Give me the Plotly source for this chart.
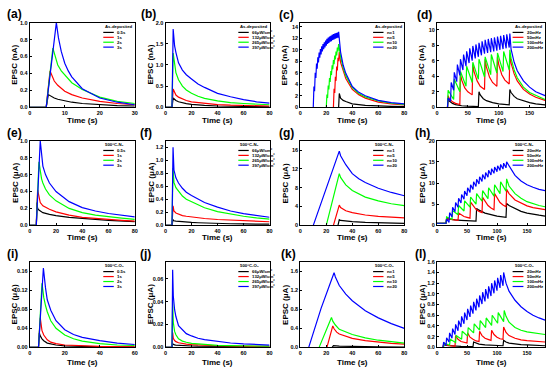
import plotly.graph_objects as go

# ================= DATA =================
COLORS = ["#000000", "#ff0000", "#00ff00", "#0000ff"]

# ---- (a) As-deposited, pulse duration ----
a_t_05 = [0, 4.7, 5.3, 6, 7, 8, 10, 12, 15, 20, 25, 30]
a_y_05 = [0, 0, 0.15, 0.13, 0.11, 0.095, 0.075, 0.06, 0.045, 0.03, 0.02, 0.015]
a_t_1 = [0, 4.7, 5.8, 6.5, 7, 8, 10, 12, 15, 20, 25, 30]
a_y_1 = [0, 0, 0.43, 0.36, 0.31, 0.26, 0.19, 0.15, 0.11, 0.07, 0.045, 0.03]
a_t_2 = [0, 4.7, 6.6, 7.2, 8, 9, 10, 12, 15, 20, 25, 30]
a_y_2 = [0, 0, 0.70, 0.60, 0.50, 0.43, 0.38, 0.29, 0.21, 0.12, 0.07, 0.045]
a_t_3 = [0, 4.7, 7.6, 8.2, 9, 10, 11, 12, 15, 20, 25, 30]
a_y_3 = [0, 0, 1.0, 0.82, 0.66, 0.52, 0.43, 0.36, 0.22, 0.11, 0.06, 0.03]

# ---- (b) As-deposited, intensity ----
b_t = [0, 5, 5.9, 7, 8, 10, 13, 16, 20, 25, 30, 40, 50, 60, 70, 80]
b_y_66 = [0, 0, 0.22, 0.18, 0.16, 0.13, 0.10, 0.085, 0.07, 0.055, 0.045, 0.03, 0.022, 0.017, 0.013, 0.01]
b_y_132 = [0, 0, 0.43, 0.33, 0.29, 0.24, 0.19, 0.16, 0.13, 0.11, 0.09, 0.065, 0.05, 0.04, 0.035, 0.03]
b_y_265 = [0, 0, 1.28, 0.95, 0.82, 0.65, 0.5, 0.41, 0.33, 0.26, 0.21, 0.15, 0.11, 0.09, 0.07, 0.06]
b_y_397 = [0, 0, 1.85, 1.45, 1.3, 1.05, 0.88, 0.77, 0.67, 0.55, 0.47, 0.33, 0.25, 0.18, 0.13, 0.1]

# ---- (c) As-deposited, pulse number (1 Hz trains) ----
c_rise = 0.5
c_p1_t = [29.5]
c_p1_low = [0]
c_p1_peak = [2.4]
c_p1_tail_t = [31, 33, 35, 40, 50, 60, 70, 80]
c_p1_tail_y = [1.6, 1.2, 1.0, 0.6, 0.35, 0.2, 0.15, 0.1]
c_p5_t = [25.5, 26.5, 27.5, 28.5, 29.5]
c_p5_low = [0, 2.5, 4.6, 6.4, 8.0]
c_p5_peak = [3.2, 5.3, 7.1, 8.6, 9.6]
c_p5_tail_t = [31, 33, 35, 40, 45, 50, 60, 70, 80]
c_p5_tail_y = [7.8, 6.2, 5.0, 3.1, 2.2, 1.6, 0.9, 0.6, 0.4]
c_p10_t = [20, 21, 22, 23, 24, 25, 26, 27, 28, 29]
c_p10_low = [0, 1.6, 3.1, 4.4, 5.6, 6.6, 7.5, 8.3, 9.0, 9.7]
c_p10_peak = [2.2, 3.8, 5.1, 6.3, 7.3, 8.2, 9.0, 9.7, 10.4, 11.0]
c_p10_tail_t = [31, 33, 35, 40, 45, 50, 60, 70, 80]
c_p10_tail_y = [8.8, 6.8, 5.5, 3.4, 2.4, 1.8, 1.1, 0.7, 0.5]
c_p20_t = [10, 11, 12, 13, 14, 15, 16, 17, 18, 19, 20, 21, 22, 23, 24, 25, 26, 27, 28, 29]
c_p20_low = [0, 2.8, 5.1, 6.7, 7.8, 8.6, 9.2, 9.7, 10.1, 10.4, 10.7, 11.0, 11.2, 11.4, 11.5, 11.7, 11.8, 11.9, 12.0, 12.1]
c_p20_peak = [3.6, 6.0, 7.6, 8.7, 9.5, 10.1, 10.6, 11.0, 11.3, 11.6, 11.9, 12.1, 12.3, 12.4, 12.6, 12.7, 12.8, 12.9, 13.0, 13.1]
c_p20_tail_t = [31, 33, 35, 40, 45, 50, 60, 70, 80]
c_p20_tail_y = [9.6, 7.3, 5.9, 3.6, 2.6, 2.0, 1.2, 0.8, 0.6]

# ---- (d) As-deposited, frequency ----
d_rise = 1
d_k_t = [17, 18, 20, 25, 30, 40, 50, 67, 68, 70, 75, 80, 90, 100, 117, 118, 120, 125, 130, 140, 150, 160, 175]
d_k_y = [0, 1.1, 0.8, 0.5, 0.35, 0.2, 0.15, 0.1, 2.0, 1.6, 1.1, 0.85, 0.6, 0.45, 0.3, 2.3, 1.9, 1.4, 1.1, 0.8, 0.6, 0.45, 0.3]
d_r_t = [17, 18, 20, 25, 30, 37, 38, 40, 45, 50, 57, 58, 60, 65, 70, 77, 78, 80, 85, 90, 97,
         98, 100, 105, 110, 117, 118, 120, 125, 130, 140, 150, 160, 175]
d_r_y = [0, 1.5, 1.1, 0.7, 0.5, 0.35, 4.3, 3.5, 2.5, 2.0, 1.6, 5.5, 4.6, 3.4, 2.7, 2.3, 6.2, 5.2, 3.9, 3.2, 2.7,
         6.5, 5.5, 4.2, 3.5, 3.0, 6.8, 5.7, 4.3, 3.4, 2.3, 1.7, 1.3, 0.9]
d_g_t = [17, 27, 37, 47, 57, 67, 77, 87, 97, 107, 117]
d_g_low = [0, 1.0, 2.0, 2.7, 3.2, 3.6, 3.9, 4.2, 4.4, 4.6, 4.8]
d_g_peak = [2.2, 3.6, 4.6, 5.3, 5.8, 6.2, 6.5, 6.8, 7.0, 7.2, 7.4]
d_g_tail_t = [120, 125, 130, 140, 150, 160, 175]
d_g_tail_y = [6.3, 4.8, 3.8, 2.6, 1.9, 1.5, 1.0]
d_b_t = [17, 22, 27, 32, 37, 42, 47, 52, 57, 62, 67, 72, 77, 82, 87, 92, 97, 102, 107, 112, 117]
d_b_low = [0, 0.8, 2.2, 3.3, 4.1, 4.8, 5.3, 5.7, 6.0, 6.3, 6.5, 6.7, 6.9, 7.0, 7.1, 7.2, 7.3, 7.4, 7.5, 7.6, 7.7]
d_b_peak = [1.2, 3.2, 4.5, 5.5, 6.2, 6.8, 7.2, 7.6, 7.9, 8.1, 8.3, 8.5, 8.7, 8.8, 8.9, 9.0, 9.1, 9.2, 9.3, 9.4, 9.5]
d_b_tail_t = [120, 125, 130, 140, 150, 160, 175]
d_b_tail_y = [7.5, 5.8, 4.7, 3.4, 2.6, 2.0, 1.5]

# ---- (e) 500C-N2, pulse duration ----
e_t_05 = [0, 5, 5.5, 6, 7, 8, 10, 15, 20, 30, 40, 50, 60, 70, 80]
e_y_05 = [0, 0, 0.27, 0.2, 0.18, 0.17, 0.15, 0.13, 0.115, 0.095, 0.08, 0.07, 0.06, 0.05, 0.045]
e_t_1 = [0, 5, 6, 7, 8, 10, 15, 20, 30, 40, 50, 60, 70, 80]
e_y_1 = [0, 0, 0.42, 0.32, 0.27, 0.23, 0.19, 0.16, 0.12, 0.095, 0.08, 0.07, 0.06, 0.05]
e_t_2 = [0, 5, 7, 8, 9, 10, 12, 15, 20, 30, 40, 50, 60, 70, 80]
e_y_2 = [0, 0, 0.75, 0.62, 0.55, 0.5, 0.43, 0.36, 0.29, 0.2, 0.15, 0.12, 0.1, 0.085, 0.07]
e_t_3 = [0, 5, 8, 9, 10, 12, 15, 20, 30, 40, 50, 60, 70, 80]
e_y_3 = [0, 0, 1.0, 0.8, 0.7, 0.6, 0.5, 0.4, 0.28, 0.21, 0.17, 0.14, 0.12, 0.1]

# ---- (f) 500C-N2, intensity ----
f_t = [0, 5, 5.8, 6.5, 8, 10, 13, 16, 20, 25, 30, 40, 50, 60, 70, 80]
f_y_66 = [0, 0, 0.09, 0.07, 0.065, 0.06, 0.055, 0.05, 0.045, 0.04, 0.035, 0.03, 0.025, 0.022, 0.02, 0.018]
f_y_132 = [0, 0, 0.30, 0.22, 0.19, 0.17, 0.15, 0.14, 0.13, 0.115, 0.105, 0.09, 0.08, 0.07, 0.065, 0.055]
f_y_265 = [0, 0, 0.88, 0.66, 0.58, 0.52, 0.45, 0.40, 0.36, 0.31, 0.27, 0.21, 0.17, 0.14, 0.115, 0.095]
f_y_397 = [0, 0, 1.2, 0.85, 0.73, 0.65, 0.57, 0.51, 0.46, 0.40, 0.35, 0.28, 0.22, 0.18, 0.15, 0.125]

# ---- (g) 500C-N2, pulse number ----
g_t_1 = [29, 30, 31, 35, 40, 50, 60, 70, 80]
g_y_1 = [0, 1.2, 1.05, 0.9, 0.8, 0.65, 0.55, 0.48, 0.4]
g_t_5 = [25.5, 30, 31, 33, 35, 40, 50, 60, 70, 80]
g_y_5 = [0, 4.3, 3.8, 3.4, 3.1, 2.7, 2.2, 1.9, 1.7, 1.6]
g_t_10 = [20, 25, 30, 31, 33, 35, 40, 50, 60, 70, 80]
g_y_10 = [0, 5.6, 11.0, 10.2, 9.3, 8.6, 7.4, 6.0, 5.2, 4.6, 4.2]
g_t_20 = [10, 20, 30, 31, 33, 35, 40, 45, 50, 60, 70, 80]
g_y_20 = [0, 8.0, 15.8, 14.8, 13.7, 12.9, 11.0, 9.9, 9.1, 7.9, 7.0, 6.3]

# ---- (h) 500C-N2, frequency ----
h_rise = 1
h_k_t = [0, 15, 16, 20, 30, 40, 50, 65, 66, 70, 80, 90, 100, 115, 116, 120, 130, 140, 150, 160, 170, 180]
h_k_y = [0.5, 0.5, 1.6, 1.5, 1.3, 1.2, 1.1, 1.0, 4.0, 3.6, 2.9, 2.5, 2.2, 1.9, 5.2, 4.7, 3.9, 3.3, 2.9, 2.6, 2.4, 2.2]
h_r_t = [0, 15, 16, 20, 25, 30, 35, 36, 40, 45, 50, 55, 56, 60, 65, 70, 75, 76, 80, 85, 90, 95,
         96, 100, 105, 110, 115, 116, 120, 130, 140, 150, 160, 170, 180]
h_r_y = [0.5, 0.5, 1.5, 1.4, 1.3, 1.25, 1.2, 2.9, 2.5, 2.1, 1.9, 1.7, 5.5, 4.6, 3.8, 3.3, 3.0, 6.6, 5.6, 4.7, 4.1, 3.7,
         7.5, 6.5, 5.4, 4.8, 4.4, 8.5, 7.5, 6.0, 5.2, 4.6, 4.2, 3.9, 3.7]
h_g_t = [15, 25, 35, 45, 55, 65, 75, 85, 95, 105, 115]
h_g_low = [0.5, 1.4, 2.5, 3.4, 4.3, 5.0, 5.7, 6.3, 6.9, 7.5, 8.1]
h_g_peak = [2.0, 3.5, 4.7, 5.8, 6.7, 7.5, 8.2, 8.9, 9.6, 10.3, 11.0]
h_g_tail_t = [120, 130, 140, 150, 160, 170, 180]
h_g_tail_y = [9.3, 7.5, 6.4, 5.6, 5.1, 4.7, 4.4]
h_b_t = [15, 20, 25, 30, 35, 40, 45, 50, 55, 60, 65, 70, 75, 80, 85, 90, 95, 100, 105, 110, 115]
h_b_low = [0.5, 0.7, 2.0, 3.2, 4.3, 5.3, 6.2, 7.0, 7.8, 8.5, 9.2, 9.8, 10.4, 10.9, 11.4, 11.9, 12.3, 12.7, 13.0, 13.3, 13.6]
h_b_peak = [1.5, 3.0, 4.3, 5.4, 6.4, 7.3, 8.1, 8.9, 9.6, 10.3, 10.9, 11.5, 12.0, 12.5, 13.0, 13.4, 13.8, 14.1, 14.4, 14.7, 15.0]
h_b_tail_t = [120, 125, 130, 140, 150, 160, 170, 180]
h_b_tail_y = [14.0, 12.7, 11.8, 10.5, 9.6, 9.0, 8.5, 8.2]
h_base_t = [0]
h_base_y = [0.5]

# ---- (i) 500C-O2, pulse duration ----
i_t_05 = [0, 5, 5.5, 6, 7, 8, 10, 15, 20, 30, 40, 60]
i_y_05 = [0, 0, 0.03, 0.024, 0.018, 0.014, 0.009, 0.005, 0.003, 0.0015, 0.001, 0.0005]
i_t_1 = [0, 5, 6, 6.5, 7, 8, 10, 12, 15, 20, 30, 40, 60]
i_y_1 = [0, 0, 0.062, 0.045, 0.035, 0.026, 0.016, 0.011, 0.008, 0.005, 0.003, 0.002, 0.001]
i_t_2 = [0, 5, 7, 7.5, 8, 9, 10, 12, 15, 20, 25, 30, 40, 50, 60]
i_y_2 = [0, 0, 0.135, 0.12, 0.105, 0.088, 0.075, 0.056, 0.04, 0.026, 0.018, 0.013, 0.008, 0.005, 0.004]
i_t_3 = [0, 5, 7.8, 8.5, 9, 10, 12, 15, 20, 25, 30, 40, 50, 60]
i_y_3 = [0, 0, 0.167, 0.14, 0.125, 0.1, 0.078, 0.056, 0.037, 0.027, 0.021, 0.014, 0.009, 0.006]

# ---- (j) 500C-O2, intensity ----
j_t = [0, 5, 5.5, 6, 7, 8, 10, 13, 16, 20, 25, 30, 40, 50, 60, 70, 80]
j_y_66 = [0, 0, 0.003, 0.0025, 0.0022, 0.002, 0.0018, 0.0016, 0.0014, 0.0012, 0.001, 0.0009, 0.0007, 0.0006, 0.0005, 0.0004, 0.0004]
j_y_132 = [0, 0, 0.013, 0.008, 0.006, 0.005, 0.004, 0.0032, 0.0028, 0.0024, 0.002, 0.0018, 0.0014, 0.0012, 0.001, 0.0009, 0.0008]
j_y_265 = [0, 0, 0.04, 0.022, 0.014, 0.011, 0.0075, 0.0055, 0.0045, 0.0035, 0.003, 0.0025, 0.0018, 0.0015, 0.0012, 0.001, 0.001]
j_y_397 = [0, 0, 0.068, 0.045, 0.033, 0.027, 0.019, 0.015, 0.012, 0.010, 0.008, 0.0068, 0.005, 0.0038, 0.003, 0.0025, 0.002]

# ---- (k) 500C-O2, pulse number ----
k_t_1 = [24.5, 25.5, 30, 40, 60, 80]
k_y_1 = [0, 0.035, 0.025, 0.018, 0.01, 0.006]
k_t_5 = [20.5, 25, 26, 28, 30, 35, 40, 50, 60, 70, 80]
k_y_5 = [0, 0.45, 0.39, 0.32, 0.28, 0.23, 0.19, 0.14, 0.11, 0.085, 0.07]
k_t_10 = [14.5, 24, 25, 27, 30, 35, 40, 50, 60, 70, 80]
k_y_10 = [0, 0.63, 0.55, 0.47, 0.38, 0.32, 0.27, 0.2, 0.15, 0.12, 0.09]
k_t_20 = [6.5, 16, 26, 27, 30, 35, 40, 50, 60, 70, 80]
k_y_20 = [0, 0.82, 1.57, 1.48, 1.3, 1.12, 0.98, 0.77, 0.62, 0.5, 0.4]

# ---- (l) 500C-O2, frequency ----
l_rise = 1
l_k_t = [10, 11, 15, 20, 30, 40, 50, 60, 61, 65, 70, 80, 90, 100, 110, 111, 115, 120, 130, 140, 150, 160, 170, 180]
l_k_y = [0, 0.05, 0.035, 0.03, 0.022, 0.018, 0.015, 0.013, 0.1, 0.075, 0.06, 0.045, 0.038, 0.033, 0.03, 0.13, 0.1,
         0.08, 0.06, 0.05, 0.045, 0.04, 0.035, 0.03]
l_r_t = [10, 11, 15, 20, 25, 30, 31, 35, 40, 45, 50, 51, 55, 60, 65, 70, 71, 75, 80, 85, 90, 91, 95, 100, 105, 110,
         111, 115, 120, 130, 140, 150, 160, 170, 180]
l_r_y = [0, 0.06, 0.04, 0.03, 0.025, 0.02, 0.22, 0.15, 0.11, 0.09, 0.08, 0.27, 0.19, 0.15, 0.12, 0.11, 0.3, 0.22,
         0.17, 0.15, 0.13, 0.32, 0.24, 0.19, 0.16, 0.15, 0.38, 0.28, 0.22, 0.17, 0.14, 0.125, 0.115, 0.105, 0.1]
l_g_t = [11, 21, 31, 41, 51, 61, 71, 81, 91, 101, 111]
l_g_low = [0, 0.04, 0.09, 0.15, 0.21, 0.27, 0.32, 0.37, 0.41, 0.45, 0.48]
l_g_peak = [0.08, 0.15, 0.22, 0.3, 0.37, 0.44, 0.5, 0.55, 0.6, 0.65, 0.69]
l_g_tail_t = [115, 120, 130, 140, 150, 160, 170, 180]
l_g_tail_y = [0.58, 0.47, 0.37, 0.32, 0.29, 0.27, 0.25, 0.24]
l_b_t = [10, 15, 20, 25, 30, 35, 40, 45, 50, 55, 60, 65, 70, 75, 80, 85, 90, 95, 100, 105, 110]
l_b_low = [0, 0.03, 0.1, 0.17, 0.24, 0.31, 0.38, 0.44, 0.51, 0.57, 0.63, 0.69, 0.75, 0.81, 0.86, 0.91, 0.96, 1.01, 1.06, 1.11, 1.15]
l_b_peak = [0.1, 0.18, 0.27, 0.35, 0.43, 0.5, 0.58, 0.65, 0.72, 0.78, 0.85, 0.91, 0.97, 1.03, 1.09, 1.14, 1.2, 1.25, 1.3, 1.35, 1.4]
l_b_tail_t = [115, 120, 130, 140, 150, 160, 170, 180]
l_b_tail_y = [1.2, 1.05, 0.88, 0.76, 0.67, 0.6, 0.55, 0.51]

# ---- labels ----
panel_letters = ["(a)", "(b)", "(c)", "(d)", "(e)", "(f)", "(g)", "(h)", "(i)", "(j)", "(k)", "(l)"]
row_titles = ["As-deposited", "500\u00b0C-N\u2082", "500\u00b0C-O\u2082"]
row_units = ["EPSC (nA)", "EPSC (\u03bcA)", "EPSC (\u03bcA)"]
dur_labels = ["0.5s", "1s", "2s", "3s"]
int_labels = ["66\u03bcW/cm\u00b2", "132\u03bcW/cm\u00b2", "265\u03bcW/cm\u00b2", "397\u03bcW/cm\u00b2"]
num_labels = ["n=1", "n=5", "n=10", "n=20"]
freq_labels = ["20mHz", "50mHz", "100mHz", "200mHz"]
x_title = "Time (s)"


def train(times, lows, peaks, rise, tail_t, tail_y, pre_t=None, pre_y=None):
    t, y = list(pre_t or []), list(pre_y or [])
    for ti, lo, pk in zip(times, lows, peaks):
        t += [ti, ti + rise]
        y += [lo, pk]
    return t + list(tail_t), y + list(tail_y)


panels = [
    dict(series=[(a_t_05, a_y_05), (a_t_1, a_y_1), (a_t_2, a_y_2), (a_t_3, a_y_3)],
         xr=[0, 30], xt=[0, 10, 20, 30], yr=[0, 1.0], yt=[0, 0.2, 0.4, 0.6, 0.8, 1.0], yf=".1f", labels=dur_labels),
    dict(series=[(b_t, b_y_66), (b_t, b_y_132), (b_t, b_y_265), (b_t, b_y_397)],
         xr=[0, 80], xt=[0, 20, 40, 60, 80], yr=[0, 2.0], yt=[0, 0.5, 1.0, 1.5, 2.0], yf=".1f", labels=int_labels),
    dict(series=[train(c_p1_t, c_p1_low, c_p1_peak, c_rise, c_p1_tail_t, c_p1_tail_y),
                 train(c_p5_t, c_p5_low, c_p5_peak, c_rise, c_p5_tail_t, c_p5_tail_y),
                 train(c_p10_t, c_p10_low, c_p10_peak, c_rise, c_p10_tail_t, c_p10_tail_y),
                 train(c_p20_t, c_p20_low, c_p20_peak, c_rise, c_p20_tail_t, c_p20_tail_y)],
         xr=[0, 80], xt=[0, 20, 40, 60, 80], yr=[0, 14.7], yt=[0, 2, 4, 6, 8, 10, 12, 14], yf="d", labels=num_labels),
    dict(series=[(d_k_t, d_k_y), (d_r_t, d_r_y),
                 train(d_g_t, d_g_low, d_g_peak, d_rise, d_g_tail_t, d_g_tail_y),
                 train(d_b_t, d_b_low, d_b_peak, d_rise, d_b_tail_t, d_b_tail_y)],
         xr=[0, 175], xt=[0, 50, 100, 150], yr=[0, 10.9], yt=[0, 2, 4, 6, 8, 10], yf="d", labels=freq_labels),
    dict(series=[(e_t_05, e_y_05), (e_t_1, e_y_1), (e_t_2, e_y_2), (e_t_3, e_y_3)],
         xr=[0, 80], xt=[0, 20, 40, 60, 80], yr=[0, 1.0], yt=[0, 0.2, 0.4, 0.6, 0.8, 1.0], yf=".1f", labels=dur_labels),
    dict(series=[(f_t, f_y_66), (f_t, f_y_132), (f_t, f_y_265), (f_t, f_y_397)],
         xr=[0, 80], xt=[0, 20, 40, 60, 80], yr=[0, 1.3], yt=[0, 0.2, 0.4, 0.6, 0.8, 1.0, 1.2], yf=".1f", labels=int_labels),
    dict(series=[(g_t_1, g_y_1), (g_t_5, g_y_5), (g_t_10, g_y_10), (g_t_20, g_y_20)],
         xr=[0, 80], xt=[0, 20, 40, 60, 80], yr=[0, 18], yt=[0, 4, 8, 12, 16], yf="d", labels=num_labels),
    dict(series=[(h_k_t, h_k_y), (h_r_t, h_r_y),
                 train(h_g_t, h_g_low, h_g_peak, h_rise, h_g_tail_t, h_g_tail_y, h_base_t, h_base_y),
                 train(h_b_t, h_b_low, h_b_peak, h_rise, h_b_tail_t, h_b_tail_y, h_base_t, h_base_y)],
         xr=[0, 180], xt=[0, 50, 100, 150], yr=[0, 20], yt=[0, 5, 10, 15, 20], yf="d", labels=freq_labels),
    dict(series=[(i_t_05, i_y_05), (i_t_1, i_y_1), (i_t_2, i_y_2), (i_t_3, i_y_3)],
         xr=[0, 60], xt=[0, 20, 40, 60], yr=[0, 0.18], yt=[0, 0.04, 0.08, 0.12, 0.16], yf=".2f", labels=dur_labels),
    dict(series=[(j_t, j_y_66), (j_t, j_y_132), (j_t, j_y_265), (j_t, j_y_397)],
         xr=[0, 80], xt=[0, 20, 40, 60, 80], yr=[0, 0.075], yt=[0, 0.02, 0.04, 0.06], yf=".2f", labels=int_labels),
    dict(series=[(k_t_1, k_y_1), (k_t_5, k_y_5), (k_t_10, k_y_10), (k_t_20, k_y_20)],
         xr=[0, 80], xt=[0, 20, 40, 60, 80], yr=[0, 1.8], yt=[0, 0.4, 0.8, 1.2, 1.6], yf=".1f", labels=num_labels),
    dict(series=[(l_k_t, l_k_y), (l_r_t, l_r_y),
                 train(l_g_t, l_g_low, l_g_peak, l_rise, l_g_tail_t, l_g_tail_y),
                 train(l_b_t, l_b_low, l_b_peak, l_rise, l_b_tail_t, l_b_tail_y)],
         xr=[0, 180], xt=[0, 50, 100, 150], yr=[0, 1.6], yt=[0, 0.2, 0.4, 0.6, 0.8, 1.0, 1.2, 1.4, 1.6], yf=".1f", labels=freq_labels),
]

# ================= LAYOUT =================
W, H = 550, 372
col_px = [(28, 134), (165, 270), (301, 406), (439, 548)]
row_px = [(20, 106), (140, 226), (263, 350)]
letter_px = [(3, 11), (138, 11), (278, 12), (417, 12),
             (3, 132), (137, 132), (278, 132), (415, 132),
             (3, 255), (137, 255), (280, 255), (415, 255)]
xtitle_y = [119, 238, 365]
ytitle_off = 15

FONT = "Liberation Sans, Arial, sans-serif"
fig = go.Figure()
annotations, shapes = [], []
layout = {}

for idx, p in enumerate(panels):
    n = idx + 1
    r, c = divmod(idx, 4)
    xs = "" if n == 1 else str(n)
    x0, x1 = col_px[c]
    y0, y1 = row_px[r]
    for (t, y), col, lab in zip(p["series"], COLORS, p["labels"]):
        fig.add_trace(go.Scatter(x=t, y=y, mode="lines", line=dict(color=col, width=1.2),
                                 xaxis="x" + xs, yaxis="y" + xs, showlegend=False, name=lab,
                                 hoverinfo="skip"))
    axis_common = dict(showline=True, linecolor="black", linewidth=1, mirror=True, showgrid=False,
                       zeroline=False, ticks="inside", ticklen=2, tickwidth=1, tickcolor="black",
                       tickfont=dict(family=FONT, size=5.5, color="black", weight="bold"))
    layout["xaxis" + xs] = dict(axis_common, domain=[x0 / W, x1 / W], anchor="y" + xs,
                                range=p["xr"], tickvals=p["xt"], ticktext=[str(v) for v in p["xt"]])
    layout["yaxis" + xs] = dict(axis_common, domain=[1 - y1 / H, 1 - y0 / H], anchor="x" + xs,
                                range=p["yr"], tickvals=p["yt"], tickformat=p["yf"])
    # panel letter
    lx, ly = letter_px[idx]
    annotations.append(dict(text=panel_letters[idx], x=lx / W, y=1 - ly / H, xref="paper", yref="paper",
                            xanchor="left", yanchor="middle", showarrow=False,
                            font=dict(family=FONT, size=12, color="black", weight="bold")))
    # axis titles
    annotations.append(dict(text=x_title, x=(x0 + x1) / 2 / W, y=1 - xtitle_y[r] / H, xref="paper", yref="paper",
                            xanchor="center", yanchor="middle", showarrow=False,
                            font=dict(family=FONT, size=8, color="black", weight="bold")))
    annotations.append(dict(text=row_units[r], x=(x0 - ytitle_off) / W, y=1 - (y0 + y1) / 2 / H,
                            xref="paper", yref="paper", textangle=-90,
                            xanchor="center", yanchor="middle", showarrow=False,
                            font=dict(family=FONT, size=8, color="black", weight="bold")))
    # legend box (inside plot)
    xd, yd = "x" + xs + " domain", "y" + xs + " domain"
    annotations.append(dict(text=row_titles[r], x=0.70, y=0.955, xref=xd, yref=yd, xanchor="left",
                            yanchor="middle", showarrow=False,
                            font=dict(family=FONT, size=4.3, color="black", weight="bold")))
    for k, (col, lab) in enumerate(zip(COLORS, p["labels"])):
        yy = 0.885 - 0.058 * k
        shapes.append(dict(type="line", xref=xd, yref=yd, x0=0.70, x1=0.80, y0=yy, y1=yy,
                           line=dict(color=col, width=1.2)))
        annotations.append(dict(text=lab, x=0.815, y=yy, xref=xd, yref=yd, xanchor="left",
                                yanchor="middle", showarrow=False,
                                font=dict(family=FONT, size=4.3, color="black", weight="bold")))

fig.update_layout(layout)
fig.update_layout(width=W, height=H, margin=dict(l=0, r=0, t=0, b=0),
                  paper_bgcolor="white", plot_bgcolor="white",
                  annotations=annotations, shapes=shapes, showlegend=False)
fig.write_html("out.html", config={"displayModeBar": False},
               post_script="document.body.style.margin='0px';")
